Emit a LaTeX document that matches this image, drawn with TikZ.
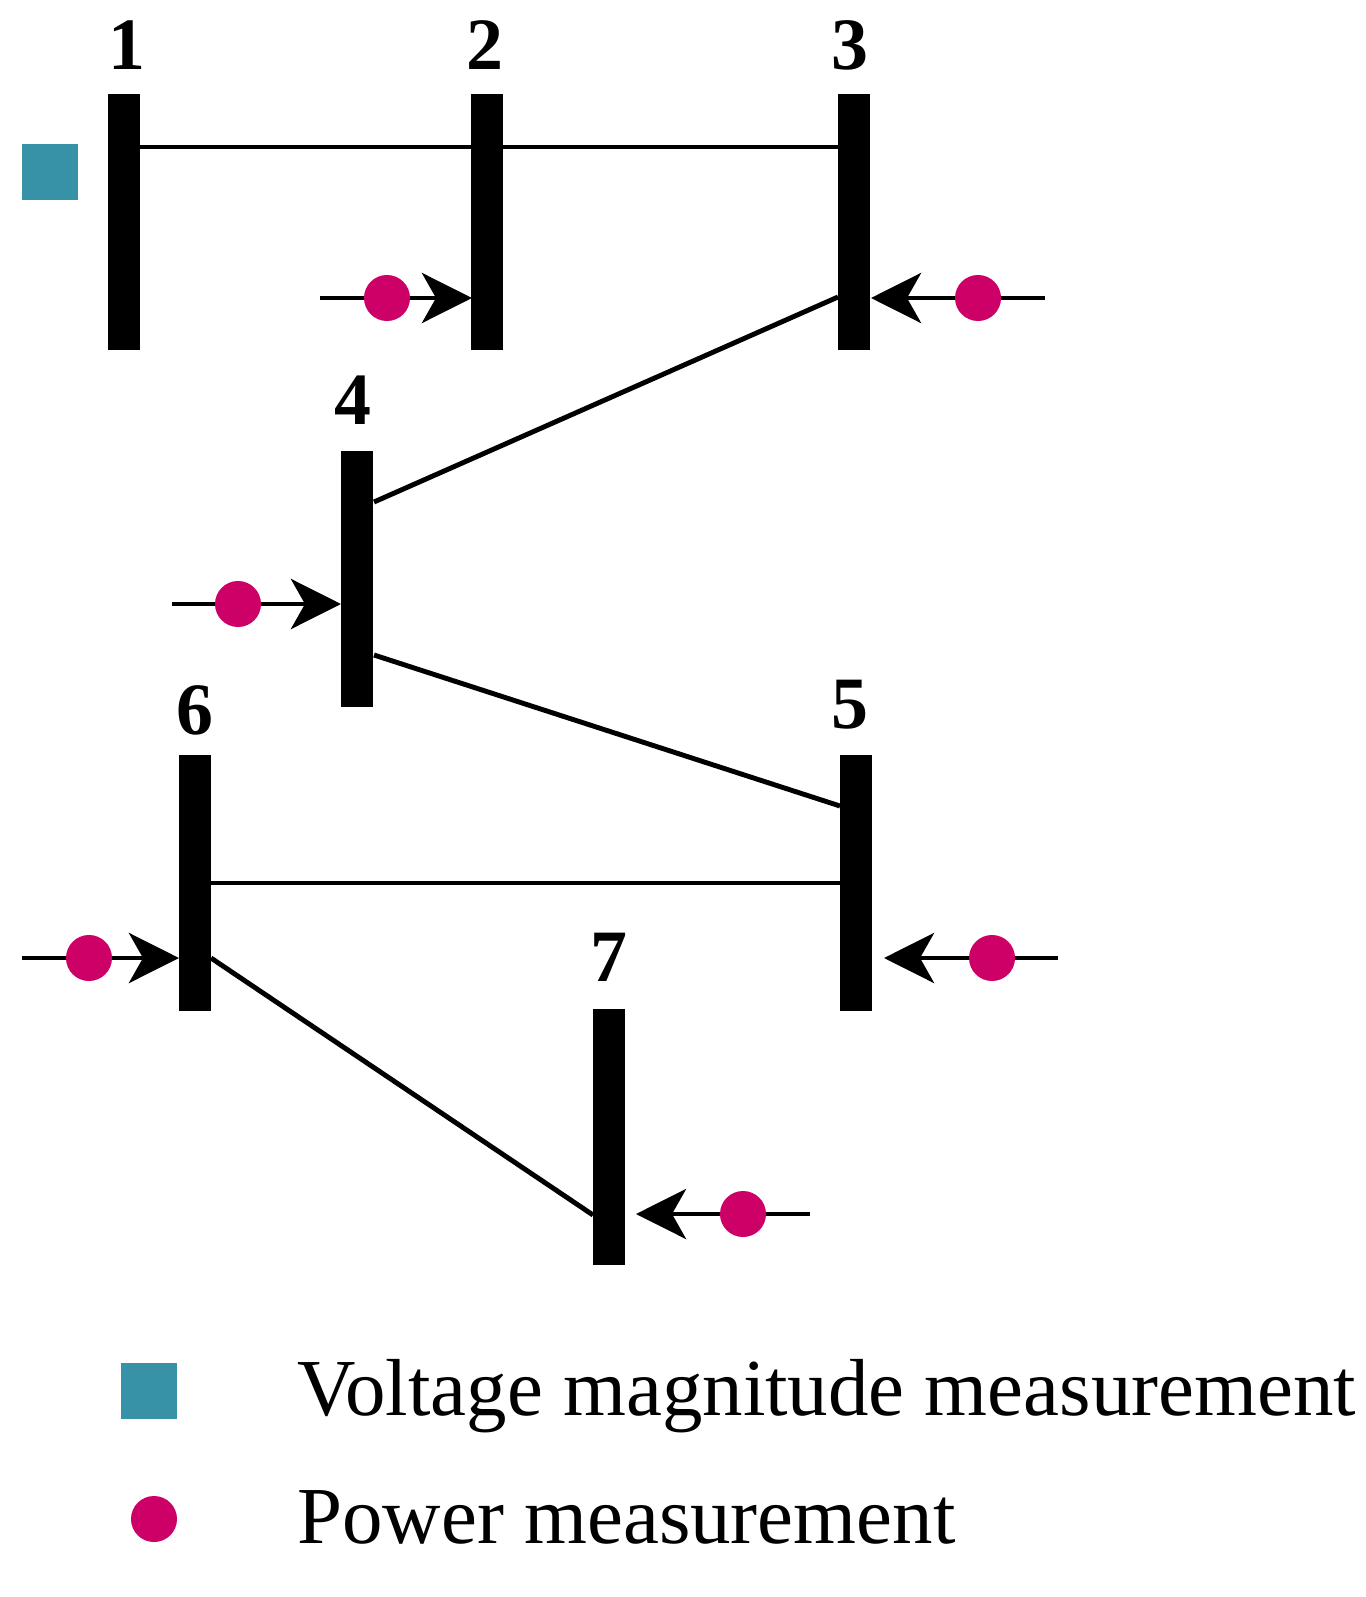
\documentclass[tikz,border=0pt]{standalone}
\usepackage{fontspec}
\setmainfont{Liberation Serif}
\usetikzlibrary{arrows.meta}
\definecolor{teal1}{HTML}{3792A8}
\definecolor{mag}{HTML}{CC0066}
\begin{document}
\begin{tikzpicture}[x=0.01cm,y=-0.01cm,
 bus/.style={fill=black,draw=none,minimum width=0.32cm,minimum height=2.55cm,inner sep=0pt},
 lbl/.style={font=\fontsize{21}{24}\selectfont\bfseries},
 ln/.style={line width=1.4pt},
 meas/.style={line width=1.4pt,-{Stealth[length=0.5cm,width=0.5cm,inset=0.14cm]}},
 dot/.style={circle,fill=mag,minimum size=0.46cm,inner sep=0pt},
 sq/.style={fill=teal1,minimum size=0.56cm,inner sep=0pt},
 leg/.style={font=\fontsize{23}{26}\selectfont,anchor=base west}]
\useasboundingbox (0,0) rectangle (1365,1597);
\node[bus] (b1) at (124,222) {};
\node[bus] (b2) at (487,222) {};
\node[bus] (b3) at (854,222) {};
\node[bus] (b4) at (357,579) {};
\node[bus] (b5) at (856,883) {};
\node[bus] (b6) at (195,883) {};
\node[bus] (b7) at (609,1137) {};
\node[lbl] (l1) at (127,45) {1};
\node[lbl] (l2) at (485,45) {2};
\node[lbl] (l3) at (850,45) {3};
\node[lbl] (l4) at (353,400) {4};
\node[lbl] (l5) at (850,705) {5};
\node[lbl] (l6) at (195,710) {6};
\node[lbl] (l7) at (609,957) {7};
\coordinate (a1) at (140,147); \coordinate (a2) at (472,147);
\coordinate (a3) at (503,147); \coordinate (a4) at (838,147);
\coordinate (c3) at (838,297); \coordinate (c4) at (374,502);
\coordinate (d4) at (374,655); \coordinate (d5) at (840,806);
\coordinate (e6) at (211,883); \coordinate (e5) at (840,883);
\coordinate (f6) at (211,958); \coordinate (f7) at (593,1215);
\draw[ln] (a1) -- (a2); \draw[ln] (a3) -- (a4);
\draw[ln] (c3) -- (c4); \draw[ln] (d4) -- (d5);
\draw[ln] (e6) -- (e5); \draw[ln] (f6) -- (f7);
\coordinate (s2) at (320,298); \coordinate (t2) at (472,298);
\coordinate (s3) at (1045,298); \coordinate (t3) at (871,298);
\coordinate (s4) at (172,604); \coordinate (t4) at (341,604);
\coordinate (s6) at (22,958); \coordinate (t6) at (179,958);
\coordinate (s5) at (1058,958); \coordinate (t5) at (884,958);
\coordinate (s7) at (810,1214); \coordinate (t7) at (636,1214);
\foreach \i in {2,3,4,6,5,7} {\draw[meas] (s\i) -- (t\i);}
\node[dot] (m2) at (387,298) {};
\node[dot] (m3) at (978,298) {};
\node[dot] (m4) at (238,604) {};
\node[dot] (m6) at (89,958) {};
\node[dot] (m5) at (992,958) {};
\node[dot] (m7) at (743,1214) {};
\node[sq] (v1) at (50,172) {};
\node[sq] (lsq) at (149,1391) {};
\node[dot] (ldot) at (154,1519) {};
\node[leg] (t1) at (285,1415) {Voltage magnitude measurement};
\node[leg] (t2x) at (285,1543) {Power measurement};
\end{tikzpicture}
\end{document}
